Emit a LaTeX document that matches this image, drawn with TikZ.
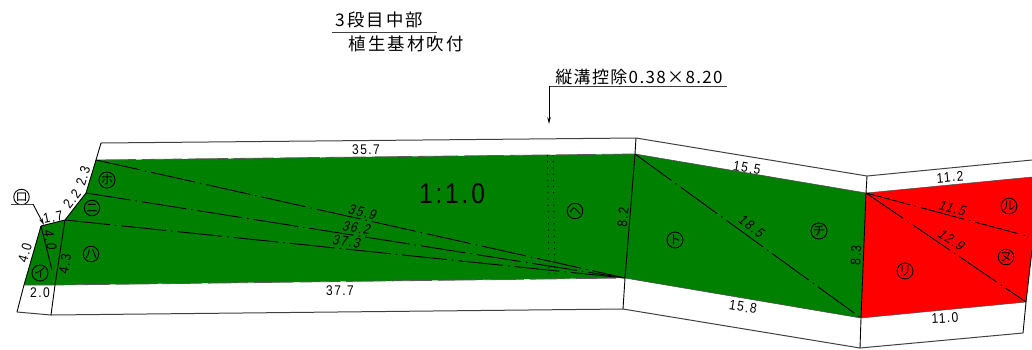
\documentclass[tikz,border=0pt]{standalone}
\usepackage{fontspec}
\usetikzlibrary{arrows.meta}
\newfontfamily\jpf{Noto Sans CJK JP}
\newfontfamily\jpsp[LetterSpace=12]{Noto Sans CJK JP}
\newfontfamily\jpsq[LetterSpace=8]{Noto Sans CJK JP}
\newfontfamily\dimf[FakeStretch=.86,LetterSpace=10]{Liberation Sans}
\newfontfamily\dimi[FakeStretch=.86,LetterSpace=10,FakeSlant=.2]{Liberation Sans}
\definecolor{grn}{RGB}{0,128,0}
\definecolor{rd}{RGB}{255,0,0}
\tikzset{
  edge/.style={black,line width=.9pt},
  rim/.style={black!75,line width=1pt},
  chain/.style={black,line width=.9pt,dash pattern=on 45pt off 5pt on 1.5pt off 5pt},
  seam/.style={black!65,line width=.8pt,dash pattern=on 40pt off 6pt},
  dotl/.style={black,line width=.8pt,dash pattern=on 1.2pt off 5pt},
  dimt/.style={inner sep=0pt,font=\dimf\fontsize{14}{14}\selectfont},
  dimit/.style={inner sep=0pt,font=\dimi\fontsize{14}{14}\selectfont},
  tag/.style={circle,draw=black,line width=.9pt,minimum size=15.5pt,inner sep=0pt,font=\jpf\fontsize{12.5}{12.5}\selectfont},
  head/.style={inner sep=0pt,font=\jpsp\fontsize{17.4}{17.4}\selectfont},
}
\begin{document}
\begin{tikzpicture}[x=1pt,y=-1pt]
\useasboundingbox (0,0) rectangle (1032,349);
% corners
\coordinate (a) at (41,226); \coordinate (b) at (65,220); \coordinate (c) at (86,193);
\coordinate (d) at (96,160); \coordinate (e) at (635,154); \coordinate (f) at (866,193);
\coordinate (g) at (1032,177); \coordinate (g2) at (1032,250); \coordinate (h) at (1026,302);
\coordinate (i) at (861,318); \coordinate (j) at (625,278); \coordinate (k) at (55,285);
\coordinate (l) at (24,285);
\coordinate (ot1) at (101,143); \coordinate (ot2) at (636,138); \coordinate (ot3) at (867,176);
\coordinate (ot4) at (1032,160);
\coordinate (ob1) at (17,312); \coordinate (ob2) at (51,315); \coordinate (ob3) at (623,309);
\coordinate (ob4) at (860,348); \coordinate (ob5) at (1023,333);
% fills
\fill[grn] (a)--(b)--(c)--(d)--(e)--(f)--(i)--(j)--(k)--(l)--cycle;
\fill[rd] (f)--(g)--(g2)--(h)--(i)--cycle;
% outer frame
\draw[rim] (ot1)--(ot2)--(ot3)--(ot4);
\draw[rim] (ob1)--(ob2)--(ob3)--(ob4)--(ob5);
\draw[edge] (ot1)--(d);
\draw[edge] (ot2)--(e)--(j)--(ob3);
\draw[edge] (ot3)--(f)--(i)--(ob4);
\draw[edge] (l)--(ob1);
\draw[edge] (k)--(ob2);
\draw[edge] (g2)--(h)--(ob5);
% slope outline
\draw[edge] (l)--(a)--(b)--(c)--(d);
\draw[edge] (b)--(k);
\draw[seam] (d)--(e);
\draw[seam] (l)--(k)--(j);
\draw[black!70,line width=.6pt] (e)--(f);
\draw[black!70,line width=.6pt] (j)--(i);
\draw[black!70,line width=.5pt] (f)--(g);
\draw[black!70,line width=.5pt] (i)--(h);
% chain lines
\coordinate (a2) at (52,270);
\coordinate (r2) at (1027,236);
\draw[edge] (a)--(a2);
\draw[chain] (d)--(j);
\draw[chain] (c)--(j);
\draw[chain] (b)--(j);
\draw[chain] (e)--(i);
\draw[chain] (f)--(h);
\draw[chain] (f)--(r2);
% drain
\coordinate (s1) at (547.5,155); \coordinate (s2) at (549,277);
\coordinate (s3) at (553,155); \coordinate (s4) at (555,277);
\draw[dotl] (s1)--(s2);
\draw[dotl] (s3)--(s4);
% tags
\node[tag] (ti) at (40,273) {イ};
\node[tag] (tha) at (91,254) {ハ};
\node[tag] (tni) at (92,208) {ニ};
\node[tag] (tho) at (107,180) {ホ};
\node[tag] (the) at (575,211) {ヘ};
\node[tag] (tto) at (675,240) {ト};
\node[tag] (tchi) at (819,231) {チ};
\node[tag] (tri) at (905,271) {リ};
\node[tag] (tnu) at (1006,257) {ヌ};
\node[tag] (tru) at (1009,206) {ル};
\node[tag] (tro) at (21.5,197) {ロ};
% leader for ro
\coordinate (l0) at (11,204); \coordinate (l1) at (33,204); \coordinate (l2) at (44,225);
\draw[black!75,line width=1pt] (l0)--(l1);
\draw[edge,-{Stealth[length=7pt,width=3.5pt]}] (l1)--(l2);
% dimensions
\node[dimt,rotate=.5] (n1) at (366,150) {35.7};
\node[dimt,rotate=.5] (n2) at (340,291) {37.7};
\node[dimt,rotate=-9.5] (n3) at (747,168) {15.5};
\node[dimt,rotate=-9] (n4) at (743,307) {15.8};
\node[dimt,rotate=5] (n5) at (950,177) {11.2};
\node[dimt,rotate=3] (n6) at (945,318) {11.0};
\node[dimt,rotate=85] (n7) at (623,217) {8.2};
\node[dimt,rotate=87] (n8) at (856,255) {8.3};
\node[dimit,rotate=-36] (n9) at (751,226) {18.5};
\node[dimit,rotate=-14] (n10) at (952,208) {11.5};
\node[dimit,rotate=-33] (n11) at (951,240) {12.9};
\node[dimit,rotate=-12.5] (n12) at (362,212) {35.9};
\node[dimit,rotate=-9] (n13) at (356,228) {36.2};
\node[dimit,rotate=-6] (n14) at (346,241.5) {37.3};
\node[dimt,rotate=74] (n15) at (25,253) {4.0};
\node[dimt,rotate=12] (n16) at (53,217) {1.7};
\node[dimt,rotate=52] (n17) at (72,199) {2.2};
\node[dimt,rotate=73] (n18) at (83,176) {2.3};
\node[dimit,rotate=-77] (n19) at (50,239) {4.0};
\node[dimt,rotate=81] (n20) at (65,264) {4.3};
\node[dimt] (n21) at (40,293) {2.0};
\node[inner sep=0pt,font=\dimf\fontsize{28.5}{28.5}\selectfont] (slope) at (452,194) {1:1.0};
% heading
\node[head] (h1) at (379.5,20) {3段目中部};
\node[head] (h2) at (406,44) {植生基材吹付};
\coordinate (u1) at (332,32); \coordinate (u2) at (437,32);
\draw[black!75,line width=1pt] (u1)--(u2);
\node[inner sep=0pt,font=\jpsq\fontsize{17}{17}\selectfont] (h3) at (639,77) {縦溝控除0.38×8.20};
\coordinate (v1) at (727,86); \coordinate (v2) at (549,86); \coordinate (v3) at (549,124);
\draw[black!75,line width=1pt] (v1)--(v2);
\draw[edge,-{Stealth[length=7pt,width=3.5pt]}] (v2)--(v3);
\end{tikzpicture}
\end{document}
